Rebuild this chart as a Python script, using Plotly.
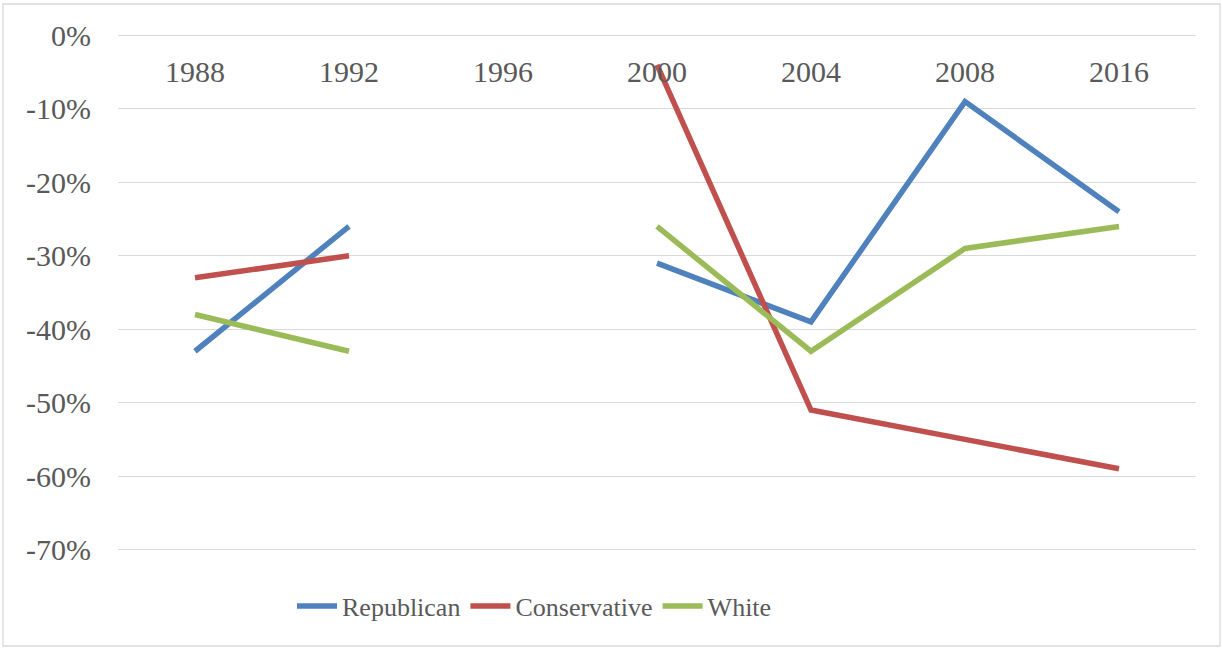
import plotly.graph_objects as go

# Election years (categorical axis) and the three series, as fractions
years = ["1988", "1992", "1996", "2000", "2004", "2008", "2016"]
republican = [-0.43, -0.26, None, -0.31, -0.39, -0.09, -0.24]
conservative = [-0.33, -0.30, None, -0.04, -0.51, -0.55, -0.59]
white = [-0.38, -0.43, None, -0.26, -0.43, -0.29, -0.26]

y_tickvals = [0, -0.1, -0.2, -0.3, -0.4, -0.5, -0.6, -0.7]
y_ticktext = ["0%", "-10%", "-20%", "-30%", "-40%", "-50%", "-60%", "-70%"]

W, H = 1222, 648
ML, MR, MT, MB = 118, 26, 34, 97
pw, ph = W - ML - MR, H - MT - MB
Y_RANGE = [-0.702, 0.002]

FONT = "Times New Roman"
TXT = "#595959"

series = [
    ("Republican", republican, "#4F81BD"),
    ("Conservative", conservative, "#C0504D"),
    ("White", white, "#9BBB59"),
]

fig = go.Figure()
for name, vals, color in series:
    fig.add_trace(go.Scatter(
        x=years, y=vals, name=name, mode="lines",
        line=dict(color=color, width=5.5),
        connectgaps=False, cliponaxis=False,
    ))

fig.update_layout(
    width=W, height=H,
    margin=dict(l=ML, r=MR, t=MT, b=MB),
    paper_bgcolor="white", plot_bgcolor="white",
    font=dict(family=FONT, color=TXT),
    showlegend=True,
    legend=dict(
        orientation="h", x=(292 - ML) / pw, xanchor="left",
        y=(H - MB - 606) / ph, yanchor="middle",
        font=dict(size=26, color=TXT, family=FONT),
        itemwidth=40, tracegroupgap=0,
        bgcolor="rgba(0,0,0,0)",
    ),
    # category axis sits on the 0% line with its labels hanging below it
    xaxis=dict(
        type="category", anchor="free", position=1, side="bottom",
        ticks="", showgrid=False, zeroline=False, showline=False,
        tickfont=dict(size=30, color=TXT, family=FONT),
        ticklabelstandoff=17,
        range=[-0.5, 6.5], fixedrange=True,
    ),
    yaxis=dict(
        range=Y_RANGE, tickvals=y_tickvals, ticktext=y_ticktext,
        showgrid=True, gridcolor="#D9D9D9", gridwidth=1.3,
        zeroline=False, showline=False, ticks="",
        tickfont=dict(size=30, color=TXT, family=FONT),
        ticklabelstandoff=26,
    ),
    shapes=[dict(
        type="rect", xref="paper", yref="paper",
        x0=(3 - ML) / pw, x1=(W - 2 - ML) / pw,
        y0=-(H - 2 - MT - ph) / ph, y1=1 + (MT - 4) / ph,
        line=dict(color="#D9D9D9", width=1.3), layer="below",
    )],
)

fig.write_html("out.html")
